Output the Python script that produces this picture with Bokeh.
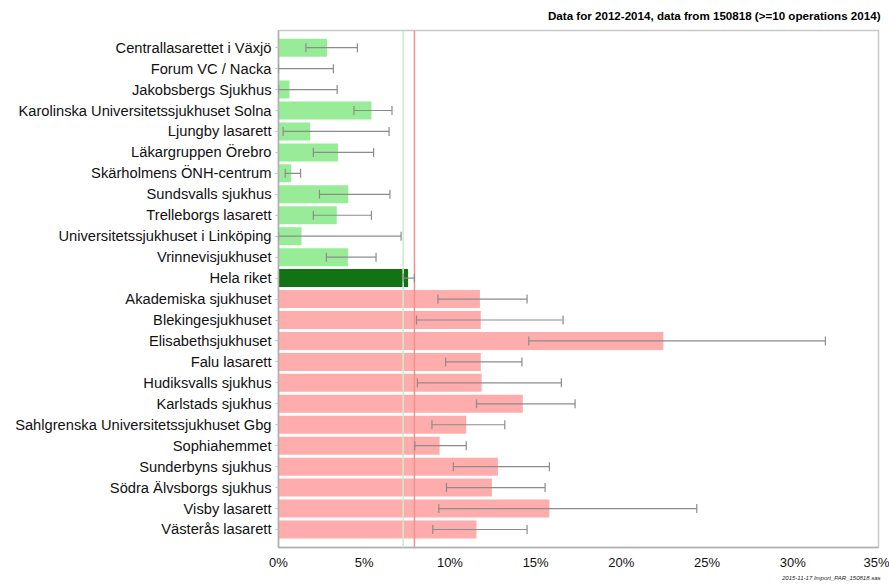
from bokeh.plotting import figure
from bokeh.models import ColumnDataSource, Range1d, FixedTicker, Span, Whisker, Title, TeeHead
from bokeh.embed import file_html
from bokeh.resources import INLINE

hospitals = [
    "Centrallasarettet i Växjö", "Forum VC / Nacka", "Jakobsbergs Sjukhus",
    "Karolinska Universitetssjukhuset Solna", "Ljungby lasarett", "Läkargruppen Örebro",
    "Skärholmens ÖNH-centrum", "Sundsvalls sjukhus", "Trelleborgs lasarett",
    "Universitetssjukhuset i Linköping", "Vrinnevisjukhuset", "Hela riket",
    "Akademiska sjukhuset", "Blekingesjukhuset", "Elisabethsjukhuset", "Falu lasarett",
    "Hudiksvalls sjukhus", "Karlstads sjukhus", "Sahlgrenska Universitetssjukhuset Gbg",
    "Sophiahemmet", "Sunderbyns sjukhus", "Södra Älvsborgs sjukhus", "Visby lasarett",
    "Västerås lasarett",
]
rate = [2.83, 0.0, 0.64, 5.42, 1.85, 3.47, 0.74, 4.07, 3.40, 1.34, 4.05, 7.56,
        11.75, 11.8, 22.45, 11.8, 11.85, 14.25, 10.95, 9.4, 12.8, 12.45, 15.8, 11.55]
ci_low = [1.6, 0.0, 0.0, 4.4, 0.27, 2.03, 0.39, 2.39, 2.03, 0.0, 2.79, 7.27,
          9.3, 8.05, 14.6, 9.75, 8.1, 11.55, 8.95, 7.95, 10.2, 9.8, 9.35, 9.0]
ci_high = [4.6, 3.2, 3.42, 6.62, 6.45, 5.55, 1.29, 6.5, 5.42, 7.15, 5.69, 7.93,
           14.5, 16.6, 31.9, 14.2, 16.5, 17.3, 13.2, 10.95, 15.8, 15.55, 24.4, 14.5]
group = ["low"] * 11 + ["national"] + ["high"] * 12
national_low = 7.27
national_high = 7.93
x_ticks = [0, 5, 10, 15, 20, 25, 30, 35]
x_tick_labels = ["0%", "5%", "10%", "15%", "20%", "25%", "30%", "35%"]
title_text = "Data for 2012-2014, data from 150818 (>=10 operations 2014)"
footnote_text = "2015-11-17 Import_PAR_150818.sas"

palette = {"low": "#98EC98", "national": "#137213", "high": "#FFACAC"}
pos = list(range(len(hospitals)))
src = ColumnDataSource(dict(
    y=pos, rate=rate, lo=ci_low, hi=ci_high,
    color=[palette[g] for g in group],
))

p = figure(width=889, height=584, output_backend="svg", toolbar_location=None,
           x_range=Range1d(0, 35), y_range=Range1d(len(hospitals) - 1 + 0.86, -0.82),
           min_border_left=278, min_border_right=11, min_border_top=30, min_border_bottom=37)

p.title.text = title_text
p.title.align = "right"
p.title.vertical_align = "top"
p.title.text_font = "Liberation Sans"
p.title.text_font_size = "11.6px"
p.title.text_font_style = "bold"
p.title.text_color = "#000000"
p.title.standoff = 13
p.title.offset = -2

p.add_layout(Title(text=footnote_text, align="right", text_font="Liberation Sans",
                   text_font_size="6px", text_font_style="italic", text_color="#222222",
                   offset=-2, standoff=0),
             "below")

p.hbar(y="y", left=0, right="rate", height=0.86, fill_color="color",
       line_color=None, source=src)

p.add_layout(Span(location=national_low, dimension="height", line_color="#C4F0C4", line_width=1.5))
p.add_layout(Span(location=national_high, dimension="height", line_color="#F29090", line_width=1.5))

wh = Whisker(base="y", lower="lo", upper="hi", dimension="width", source=src,
             line_color="#8c8c8c", line_width=1.2, level="overlay",
             lower_head=TeeHead(size=9, line_color="#8c8c8c", line_width=1.2),
             upper_head=TeeHead(size=9, line_color="#8c8c8c", line_width=1.2))
p.add_layout(wh)

p.grid.visible = False
p.outline_line_color = "#c8c8c8"
p.outline_line_width = 1.5
p.background_fill_color = "white"
p.border_fill_color = "white"

p.xaxis.ticker = FixedTicker(ticks=x_ticks)
p.xaxis.major_label_overrides = {t: l for t, l in zip(x_ticks, x_tick_labels)}
p.xaxis.major_tick_line_color = None
p.xaxis.major_tick_out = 0
p.xaxis.major_tick_in = 0
p.xaxis.minor_tick_line_color = None
p.xaxis.minor_tick_out = 0
p.xaxis.axis_line_color = "#b0b0b0"
p.xaxis.axis_line_width = 1.5
p.xaxis.major_label_text_font = "Liberation Sans"
p.xaxis.major_label_text_font_size = "13px"
p.xaxis.major_label_text_color = "#111111"
p.xaxis.major_label_standoff = 7
p.xaxis.axis_label_standoff = 0

p.yaxis.ticker = FixedTicker(ticks=pos)
p.yaxis.major_label_overrides = {i: h for i, h in zip(pos, hospitals)}
p.yaxis.major_tick_line_color = "#c0c0c0"
p.yaxis.major_tick_out = 3
p.yaxis.major_tick_in = 0
p.yaxis.minor_tick_line_color = None
p.yaxis.axis_line_color = "#b0b0b0"
p.yaxis.axis_line_width = 1.5
p.yaxis.major_label_text_font = "Liberation Sans"
p.yaxis.major_label_text_font_size = "14.7px"
p.yaxis.major_label_text_color = "#111111"
p.yaxis.major_label_standoff = 4

open("out.html", "w").write(file_html(p, INLINE))
